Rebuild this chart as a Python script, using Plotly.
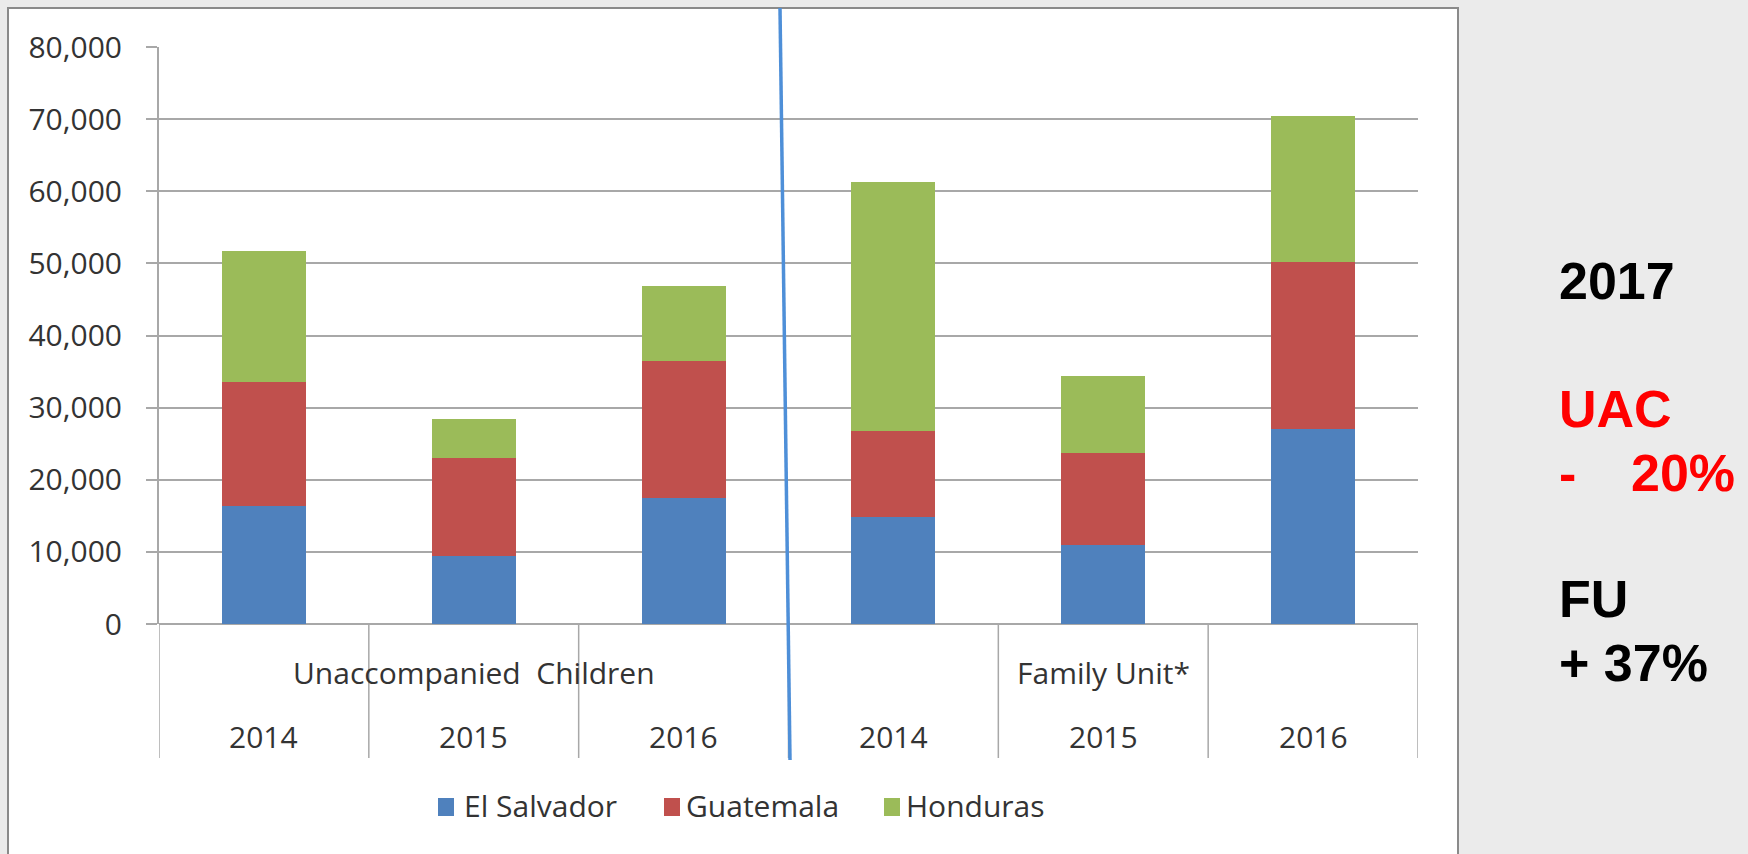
import plotly.graph_objects as go

# ---- data -------------------------------------------------------------
groups = ["Unaccompanied  Children", "Family Unit*"]
years = ["2014", "2015", "2016", "2014", "2015", "2016"]
el_salvador = [16400, 9400, 17500, 14800, 10900, 27100]
guatemala = [17100, 13600, 18900, 12000, 12800, 23100]
honduras = [18200, 5400, 10500, 34500, 10700, 20200]
series_names = ["El Salvador", "Guatemala", "Honduras"]
series_colors = ["#4f81bd", "#c0504d", "#9bbb59"]
notes = [("2017", "#000000"), ("UAC", "#ff0000"), ("FU", "#000000")]

# ---- page geometry (pixels) -------------------------------------------
W, H = 1748, 854
L, R, T, B = 159, 330, 47, 230
PW, PH = W - L - R, H - T - B


def px(x):
    return (x - L) / PW


def py(y):
    return (H - B - y) / PH


AXIS_FONT = dict(family="Open Sans, Lato, sans-serif", size=30, color="#333333")
NOTE_FONT = "Liberation Sans, Arial, sans-serif"
GRID = "#a8a8a8"

xpos = list(range(len(years)))

fig = go.Figure()
for name, vals, col in zip(series_names, [el_salvador, guatemala, honduras], series_colors):
    fig.add_trace(go.Bar(x=xpos, y=vals, name=name, width=0.4,
                         marker=dict(color=col, line=dict(width=0)),
                         showlegend=False))

shapes = []
annotations = []

# white panel behind the chart
shapes.append(dict(type="rect", xref="paper", yref="paper", layer="below",
                   x0=px(8), x1=px(1458), y0=py(H + 10), y1=py(8),
                   fillcolor="white", line=dict(color="#8a8a8a", width=2)))

# category table dividers below the axis
for i in range(len(years) + 1):
    shapes.append(dict(type="line", xref="x", yref="paper",
                       x0=i - 0.5, x1=i - 0.5, y0=0, y1=py(758),
                       line=dict(color=GRID, width=1.5)))

# year labels and group labels
for i, yr in enumerate(years):
    annotations.append(dict(x=i, y=py(736), xref="x", yref="paper", text=yr,
                            showarrow=False, font=AXIS_FONT,
                            xanchor="center", yanchor="middle"))
for g, name in enumerate(groups):
    annotations.append(dict(x=3 * g + 1, y=py(672), xref="x", yref="paper", text=name,
                            showarrow=False, font=AXIS_FONT,
                            xanchor="center", yanchor="middle"))

# legend
legend_items = [(438, 462), (664, 684), (884, 904)]
for (mx, tx), name, col in zip(legend_items, series_names, series_colors):
    shapes.append(dict(type="rect", xref="paper", yref="paper",
                       x0=px(mx), x1=px(mx + 16), y0=py(816), y1=py(798),
                       fillcolor=col, line=dict(width=0)))
    annotations.append(dict(x=px(tx), y=py(805), xref="paper", yref="paper", text=name,
                            showarrow=False, font=AXIS_FONT,
                            xanchor="left", yanchor="middle"))

# divider between the two groups
shapes.append(dict(type="line", xref="paper", yref="paper",
                   x0=px(780), x1=px(790), y0=py(8), y1=py(760),
                   line=dict(color="#4e8fd8", width=3.5)))

# side notes
note_y = [281, 409, 599]
for (txt, col), yy in zip(notes, note_y):
    annotations.append(dict(x=px(1557), y=py(yy), xref="paper", yref="paper", text=f"<b>{txt}</b>",
                            showarrow=False, font=dict(family=NOTE_FONT, size=52, color=col),
                            xanchor="left", yanchor="middle"))
annotations.append(dict(x=px(1557), y=py(473), xref="paper", yref="paper", text="<b>-</b>",
                        showarrow=False, font=dict(family=NOTE_FONT, size=52, color="#ff0000"),
                        xanchor="left", yanchor="middle"))
annotations.append(dict(x=px(1629), y=py(473), xref="paper", yref="paper", text="<b>20%</b>",
                        showarrow=False, font=dict(family=NOTE_FONT, size=52, color="#ff0000"),
                        xanchor="left", yanchor="middle"))
annotations.append(dict(x=px(1557), y=py(663), xref="paper", yref="paper", text="<b>+ 37%</b>",
                        showarrow=False, font=dict(family=NOTE_FONT, size=52, color="#000000"),
                        xanchor="left", yanchor="middle"))

fig.update_layout(
    width=W, height=H,
    margin=dict(l=L, r=R, t=T, b=B, pad=0),
    paper_bgcolor="#ebebeb",
    plot_bgcolor="rgba(0,0,0,0)",
    barmode="stack",
    bargap=0.6,
    showlegend=False,
    shapes=shapes,
    annotations=annotations,
    xaxis=dict(range=[-0.5, len(years) - 0.5], showticklabels=False, showgrid=False,
               zeroline=False, showline=False, ticks="", fixedrange=True),
    yaxis=dict(range=[0, 80000], dtick=10000, tickformat=",", showgrid=True,
               gridcolor=GRID, gridwidth=2, zeroline=True, zerolinecolor=GRID,
               zerolinewidth=2, showline=True, linecolor=GRID, linewidth=2,
               ticks="outside", ticklen=11, tickcolor=GRID, tickwidth=2,
               ticklabelstandoff=18, tickfont=AXIS_FONT, fixedrange=True),
)

fig.write_html("out.html")
